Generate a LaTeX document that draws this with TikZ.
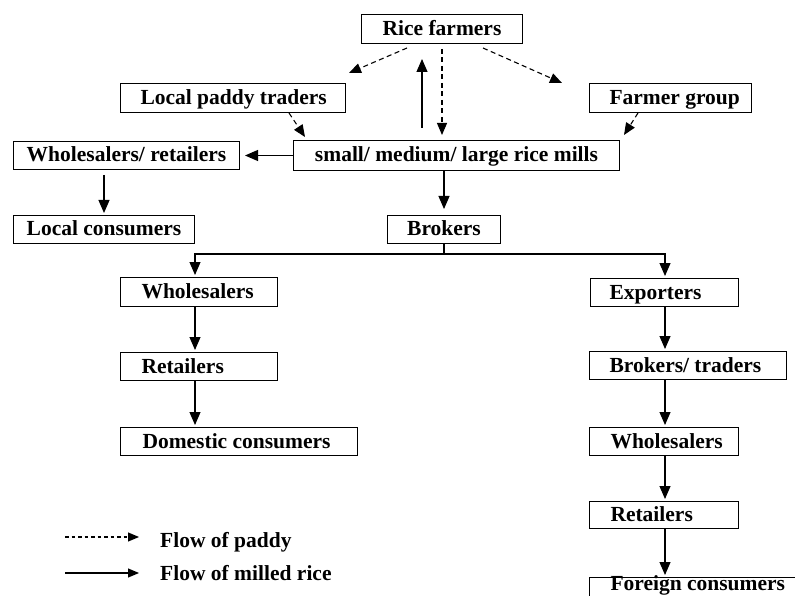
\documentclass[tikz,border=0pt]{standalone}
\usepackage{fontspec}
\setmainfont{Liberation Serif}
\usetikzlibrary{arrows.meta,calc}
\tikzset{
  box/.style={draw, line width=1pt, inner xsep=0pt, inner ysep=0pt, anchor=north west,
    text height=17pt, text depth=4pt, font=\bfseries\fontsize{21.5}{24}\selectfont},
  arr/.style={line width=1.1pt, -{Triangle[length=13pt,width=11pt]}, shorten >=2pt},
  parr/.style={line width=1.1pt, dash pattern=on 5pt off 3.5pt, -{Triangle[length=12pt,width=10pt]}},
  lbl/.style={anchor=base west, inner sep=0pt, font=\bfseries\fontsize{21.5}{24}\selectfont}
}
\newcommand\lbox[3]{\makebox[#1pt][l]{\hspace*{#2pt}#3}}
\newcommand\cbox[2]{\makebox[#1pt][c]{#2}}
\begin{document}
\begin{tikzpicture}[x=1pt,y=-1pt]
\clip (0,0) rectangle (795,596);
% boxes
\node[box, minimum height=29pt] (farmers) at (361,14) {\cbox{161}{Rice farmers}};
\node[box, minimum height=29pt] (lpt) at (120,83) {\lbox{225}{20}{Local paddy traders}};
\node[box, minimum height=29pt] (fg) at (589,83) {\lbox{162}{20}{Farmer group}};
\node[box, minimum height=30pt] (mills) at (293,140) {\cbox{326}{small/ medium/ large rice mills}};
\node[box, minimum height=28pt] (wr) at (13,141) {\cbox{226}{Wholesalers/ retailers}};
\node[box, minimum height=28pt] (lc) at (13,215) {\cbox{181}{Local consumers}};
\node[box, minimum height=28pt] (brokers) at (387,215) {\cbox{113}{Brokers}};
\node[box, minimum height=29pt] (wL) at (120,277) {\lbox{157}{21}{Wholesalers}};
\node[box, minimum height=28pt] (rL) at (120,352) {\lbox{157}{21}{Retailers}};
\node[box, minimum height=28pt] (dc) at (120,427) {\lbox{237}{22}{Domestic consumers}};
\node[box, minimum height=28pt] (ex) at (590,278) {\lbox{148}{19}{Exporters}};
\node[box, minimum height=28pt] (bt) at (589,351) {\lbox{197}{20}{Brokers/ traders}};
\node[box, minimum height=28pt] (wR) at (589,427) {\lbox{149}{21}{Wholesalers}};
\node[box, minimum height=27pt] (rR) at (589,501) {\lbox{149}{21}{Retailers}};
\node[box, minimum height=21pt, text height=13pt, text depth=8pt] (fc) at (589,577) {\lbox{216}{21}{Foreign consumers}};
% helper coordinates
\coordinate (xu) at (422,0);
\coordinate (xd) at (442,0);
\coordinate (jL) at (195,254);
\coordinate (jR) at (665,254);
% paddy flows
\draw[parr] ($(farmers.south west)+(46,4)$) -- ($(lpt.north east)+(3,-10)$);
\draw[parr] ($(farmers.south east)+(-40,4)$) -- ($(fg.north west)+(-27,0)$);
\draw[parr, shorten <=5pt, shorten >=5pt] (xd |- farmers.south) -- (xd |- mills.north);
\draw[parr] ($(lpt.south east)+(-57,0)$) -- ($(mills.north west)+(12,-3)$);
\draw[parr] ($(fg.south west)+(49,0)$) -- ($(mills.north east)+(4,-5)$);
% milled rice flows
\draw[arr, shorten <=12pt, shorten >=15pt] (xu |- mills.north) -- (xu |- farmers.south);
\draw[arr, shorten >=5pt] (mills.west) -- (wr.east);
\draw[arr, shorten <=5pt] (lc.north |- wr.south) -- (lc.north);
\draw[arr, shorten >=6pt] (brokers.north |- mills.south) -- (brokers.north);
\draw[arr] (brokers.south) |- (jL) -- (jL |- wL.north);
\draw[arr] (brokers.south) |- (jR) -- (jR |- ex.north);
\draw[arr] (jL |- wL.south) -- (jL |- rL.north);
\draw[arr] (jL |- rL.south) -- (jL |- dc.north);
\draw[arr] (jR |- ex.south) -- (jR |- bt.north);
\draw[arr] (jR |- bt.south) -- (jR |- wR.north);
\draw[arr] (jR |- wR.south) -- (jR |- rR.north);
\draw[arr] (jR |- rR.south) -- (jR |- fc.north);
% legend
\coordinate (lp1) at (65,537);
\coordinate (lp2) at (139,537);
\coordinate (lm1) at (65,573);
\coordinate (lm2) at (139,573);
\draw[line width=1.1pt, dash pattern=on 3.5pt off 3pt, -{Triangle[length=11pt,width=9pt]}] (lp1) -- (lp2);
\draw[line width=1.1pt, -{Triangle[length=11pt,width=9pt]}] (lm1) -- (lm2);
\node[lbl] (tpaddy) at (160,547) {Flow of paddy};
\node[lbl] (tmilled) at (160,580) {Flow of milled rice};
\end{tikzpicture}
\end{document}
